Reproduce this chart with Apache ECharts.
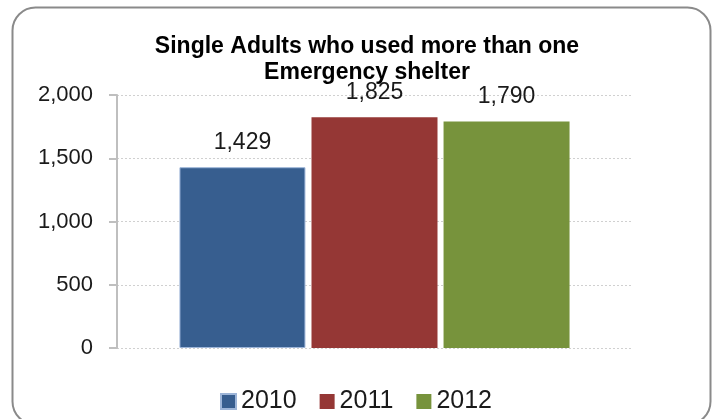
<!DOCTYPE html>
<html>
<head>
<meta charset="utf-8">
<style>
  html, body { margin: 0; padding: 0; background: #fff; }
  #chart { width: 712px; height: 419px; }
</style>
<script src="https://cdn.jsdelivr.net/npm/echarts@6/dist/echarts.min.js"></script>
</head>
<body>
<div id="chart"></div>
<script>
// Chart data
const categories = ['Single Adults'];
const seriesNames = ['2010', '2011', '2012'];
const seriesValues = [[1429], [1825], [1790]];
const seriesColors = ['#375E8F', '#953735', '#77933C'];
const yTicks = [0, 500, 1000, 1500, 2000];

const FONT = '"Liberation Sans", Arial, Helvetica, sans-serif';
const fmt = v => v.toLocaleString('en-US');

const chart = echarts.init(document.getElementById('chart'), null, { renderer: 'canvas' });

const series = seriesNames.map((name, i) => ({
  name: name,
  type: 'bar',
  data: seriesValues[i],
  barWidth: 126,
  barGap: '4.8%',
  itemStyle: {
    color: seriesColors[i],
    borderColor: i === 0 ? '#9DB5D8' : seriesColors[i],
    borderWidth: i === 0 ? 1 : 0
  },
  label: {
    show: true,
    position: 'top',
    distance: 13,
    formatter: p => fmt(p.value),
    fontFamily: FONT,
    fontSize: 23,
    color: '#1a1a1a'
  }
}));

chart.setOption({
  animation: false,
  graphic: [{
    type: 'rect',
    shape: { x: 12.5, y: 7.5, width: 698, height: 417, r: 23 },
    style: { fill: 'none', stroke: '#8a8a8a', lineWidth: 2 },
    silent: true
  }],
  title: {
    text: 'Single Adults who used more than one\nEmergency shelter',
    left: 362,
    textAlign: 'center',
    top: 29,
    textStyle: {
      fontFamily: FONT,
      fontSize: 23,
      fontWeight: 'bold',
      color: '#000',
      lineHeight: 26
    }
  },
  legend: {
    data: seriesNames,
    top: 384,
    left: 'center',
    itemWidth: 15,
    itemHeight: 15,
    itemGap: 23,
    icon: 'rect',
    textStyle: { fontFamily: FONT, fontSize: 25, color: '#1a1a1a' }
  },
  grid: { left: 117, right: 80, top: 95, bottom: 71, containLabel: false },
  xAxis: {
    type: 'category',
    data: categories,
    axisLine: { show: false },
    axisTick: { show: false },
    axisLabel: { show: false }
  },
  yAxis: {
    type: 'value',
    min: yTicks[0],
    max: yTicks[yTicks.length - 1],
    interval: 500,
    axisLine: { show: true, lineStyle: { color: '#BFBFBF', width: 2 } },
    axisTick: { show: true, inside: false, length: 8, lineStyle: { color: '#BFBFBF', width: 2 } },
    axisLabel: {
      formatter: v => fmt(v),
      fontFamily: FONT,
      fontSize: 22,
      color: '#1a1a1a',
      margin: 24
    },
    splitLine: { show: true, lineStyle: { color: '#D0D0D0', type: [2, 2], width: 1 } }
  },
  series: series
});
</script>
</body>
</html>
